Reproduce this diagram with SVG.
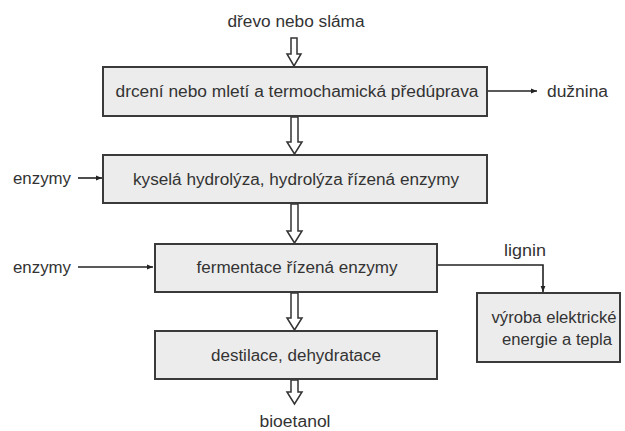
<svg xmlns="http://www.w3.org/2000/svg" width="625" height="431" viewBox="0 0 625 431">
<defs>
<style>
.box{fill:#ececec;stroke:#3a3a3a;stroke-width:2}
.t{font-family:"Liberation Sans Narrow","Liberation Sans",Arial,sans-serif;font-size:16px;fill:#333;text-anchor:middle}
.tl{font-family:"Liberation Sans Narrow","Liberation Sans",Arial,sans-serif;font-size:16px;fill:#333}
.big{fill:#fff;stroke:#333;stroke-width:1.5;stroke-linejoin:miter}
.thin{fill:none;stroke:#222;stroke-width:1.6}
</style>
<marker id="ah" viewBox="0 0 10 10" refX="10" refY="5" markerWidth="6" markerHeight="6" markerUnits="userSpaceOnUse" orient="auto">
<path d="M0,1 L10,5 L0,9 Z" fill="#222"/>
</marker>
</defs>
<rect width="625" height="431" fill="#fff"/>
<g id="connectors">
<path class="big" d="M291,38 L297,38 L297,54 L301,54 L294,66 L287,54 L291,54 Z"/>
<path class="big" d="M291,117 L298,117 L298,142 L302,142 L294.5,154 L287,142 L291,142 Z"/>
<path class="big" d="M291,204 L298,204 L298,231 L302,231 L294.5,243 L287,231 L291,231 Z"/>
<path class="big" d="M291,293 L298,293 L298,318 L302,318 L294.5,330 L287,318 L291,318 Z"/>
<path class="big" d="M291,380 L298,380 L298,392 L302,392 L294.5,404 L287,392 L291,392 Z"/>
<line class="thin" x1="488" y1="91" x2="537" y2="91" marker-end="url(#ah)"/>
<line class="thin" x1="78" y1="178" x2="102" y2="178" marker-end="url(#ah)"/>
<line class="thin" x1="78" y1="267" x2="153" y2="267" marker-end="url(#ah)"/>
<polyline class="thin" points="438,265 543,265 543,292" marker-end="url(#ah)"/>
</g>
<g id="label-drevo"><text class="t" x="296" y="27" textLength="137" lengthAdjust="spacingAndGlyphs">dřevo nebo sláma</text></g>
<g id="node-drceni">
<rect class="box" x="103" y="67" width="384" height="49"/>
<text class="t" x="297" y="97" textLength="363" lengthAdjust="spacingAndGlyphs">drcení nebo mletí a termochamická předúprava</text>
</g>
<g id="label-duznina"><text class="tl" x="547" y="97" textLength="61" lengthAdjust="spacingAndGlyphs">dužnina</text></g>
<g id="node-hydrolyza">
<rect class="box" x="103" y="155" width="384" height="48"/>
<text class="t" x="296" y="185" textLength="326" lengthAdjust="spacingAndGlyphs">kyselá hydrolýza, hydrolýza řízená enzymy</text>
</g>
<g id="label-enzymy1"><text class="tl" x="13" y="184" textLength="58" lengthAdjust="spacingAndGlyphs">enzymy</text></g>
<g id="node-fermentace">
<rect class="box" x="155" y="244" width="282" height="48"/>
<text class="t" x="297" y="273" textLength="201" lengthAdjust="spacingAndGlyphs">fermentace řízená enzymy</text>
</g>
<g id="label-enzymy2"><text class="tl" x="13" y="273" textLength="58" lengthAdjust="spacingAndGlyphs">enzymy</text></g>
<g id="label-lignin"><text class="tl" x="504" y="256" textLength="42" lengthAdjust="spacingAndGlyphs">lignin</text></g>
<g id="node-vyroba">
<rect class="box" x="477" y="293" width="143" height="69"/>
<text class="t" x="554" y="323" textLength="125" lengthAdjust="spacingAndGlyphs">výroba elektrické</text>
<text class="t" x="557" y="345" textLength="110" lengthAdjust="spacingAndGlyphs">energie a tepla</text>
</g>
<g id="node-destilace">
<rect class="box" x="155" y="331" width="282" height="48"/>
<text class="t" x="296" y="361" textLength="170" lengthAdjust="spacingAndGlyphs">destilace, dehydratace</text>
</g>
<g id="label-bioetanol"><text class="t" x="295" y="427" textLength="71" lengthAdjust="spacingAndGlyphs">bioetanol</text></g>
</svg>
